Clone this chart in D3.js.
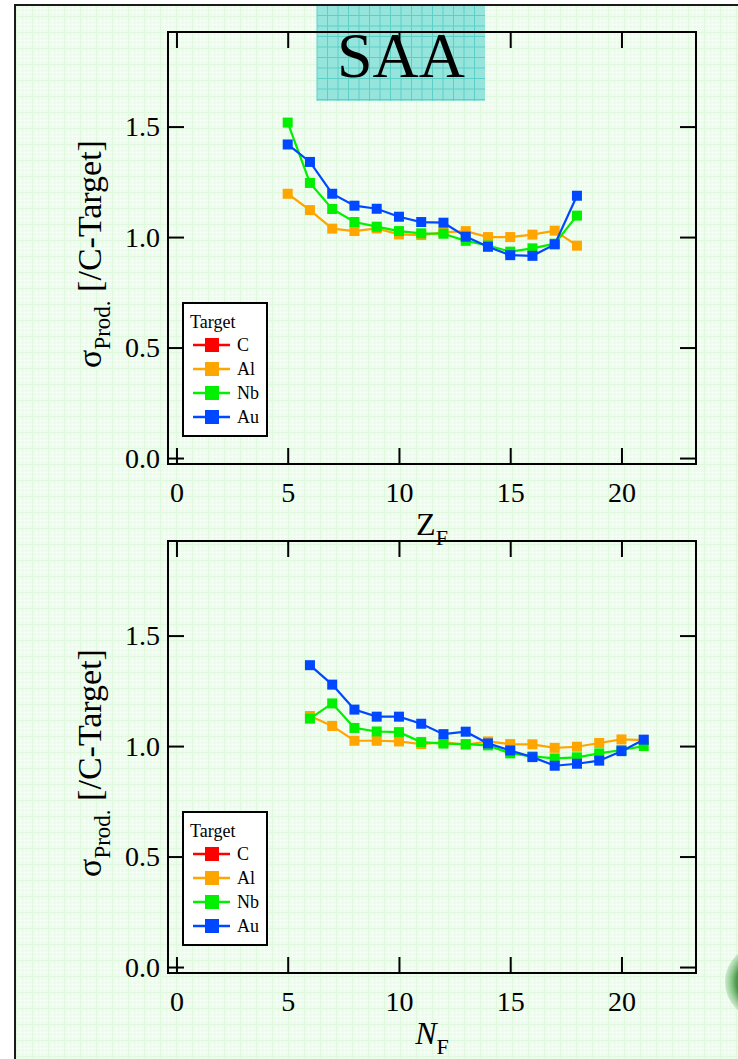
<!DOCTYPE html>
<html>
<head>
<meta charset="utf-8">
<script src="https://cdn.jsdelivr.net/npm/d3@7"></script>
<style>
  body { margin: 0; background: #fff; }
  svg { display: block; font-family: "Liberation Serif", "Times New Roman", serif; }
</style>
</head>
<body>
<div id="chart"></div>
<script>

// Data
const targets = ["C", "Al", "Nb", "Au"];
const targetColors = ["#ff0000", "#ffa500", "#00f000", "#0048ff"];

const zValues = [5, 6, 7, 8, 9, 10, 11, 12, 13, 14, 15, 16, 17, 18];
const zAl = [1.196, 1.122, 1.038, 1.027, 1.039, 1.012, 1.009, 1.021, 1.027, 1.000, 1.000, 1.011, 1.029, 0.961];
const zNb = [1.518, 1.245, 1.127, 1.068, 1.047, 1.027, 1.017, 1.015, 0.983, 0.962, 0.934, 0.949, 0.970, 1.097];
const zAu = [1.419, 1.340, 1.196, 1.142, 1.128, 1.092, 1.068, 1.065, 1.002, 0.956, 0.918, 0.915, 0.967, 1.187];

const nValues = [6, 7, 8, 9, 10, 11, 12, 13, 14, 15, 16, 17, 18, 19, 20, 21];
const nAl = [1.136, 1.091, 1.024, 1.024, 1.021, 1.009, 1.018, 1.006, 1.021, 1.009, 1.008, 0.992, 0.997, 1.014, 1.030, 1.027];
const nNb = [1.124, 1.193, 1.082, 1.066, 1.063, 1.018, 1.011, 1.009, 1.003, 0.967, 0.953, 0.944, 0.949, 0.967, 0.982, 1.000];
const nAu = [1.366, 1.278, 1.165, 1.133, 1.133, 1.101, 1.054, 1.065, 1.012, 0.980, 0.950, 0.911, 0.920, 0.934, 0.977, 1.029];

const xTicks = [0, 5, 10, 15, 20];
const yTicks = [0.0, 0.5, 1.0, 1.5];

// Dimensions
const width = 738;
const height = 1059;
const left = 168;
const right = 696;

const svg = d3.select("#chart")
  .append("svg")
    .attr("width", width)
    .attr("height", height);

const defs = svg.append("defs");

// light green graph-paper background
const bgPattern = defs.append("pattern")
    .attr("id", "paper")
    .attr("width", 16)
    .attr("height", 16)
    .attr("patternUnits", "userSpaceOnUse");
bgPattern.append("rect")
    .attr("width", 16)
    .attr("height", 16)
    .attr("fill", "#eafcea");
[0, 4, 8, 12].forEach(p => {
  bgPattern.append("rect").attr("x", p).attr("y", 0).attr("width", 1).attr("height", 16).attr("fill", "#f5fef4");
  bgPattern.append("rect").attr("x", 0).attr("y", p).attr("width", 16).attr("height", 1).attr("fill", "#f5fef4");
});
bgPattern.append("rect").attr("x", 0).attr("y", 0).attr("width", 1).attr("height", 16).attr("fill", "#dff8de");
bgPattern.append("rect").attr("x", 0).attr("y", 0).attr("width", 16).attr("height", 1).attr("fill", "#dff8de");

const blob = defs.append("radialGradient")
    .attr("id", "blob");
blob.append("stop").attr("offset", "0%").attr("stop-color", "#2f7f2f");
blob.append("stop").attr("offset", "70%").attr("stop-color", "#4a9a4a");
blob.append("stop").attr("offset", "100%").attr("stop-color", "#8fcf8f").attr("stop-opacity", 0.4);

svg.append("rect")
    .attr("x", 15)
    .attr("y", 5)
    .attr("width", width - 15)
    .attr("height", height - 5)
    .attr("fill", "url(#paper)");

// decorative blob at the lower right corner
svg.append("circle")
    .attr("cx", 762)
    .attr("cy", 982)
    .attr("r", 37)
    .attr("fill", "url(#blob)");

// SAA title box
const saa = svg.append("g");
saa.append("rect")
    .attr("x", 317)
    .attr("y", 5)
    .attr("width", 168)
    .attr("height", 96)
    .attr("fill", "#95e5dc");
d3.range(317, 485, 10.5).forEach(p => {
  saa.append("line").attr("x1", p).attr("x2", p).attr("y1", 5).attr("y2", 101)
    .attr("stroke", "#5ccfc7").attr("stroke-width", 1);
});
d3.range(5, 101, 10.5).forEach(p => {
  saa.append("line").attr("x1", 317).attr("x2", 485).attr("y1", p).attr("y2", p)
    .attr("stroke", "#5ccfc7").attr("stroke-width", 1);
});
saa.append("text")
    .attr("x", 401)
    .attr("y", 77)
    .attr("text-anchor", "middle")
    .style("font-size", "64px")
    .attr("fill", "#000")
    .text("SAA");

// outer page border
svg.append("path")
    .attr("d", `M15,${height} V5 H${width}`)
    .attr("fill", "none")
    .attr("stroke", "#1a1a1a")
    .attr("stroke-width", 2);

const drawPanel = (top, xValues, series, xName, italic) => {
  const bottom = top + 432;

  const x = d3.scaleLinear()
    .domain([-0.38, 23.35])
    .range([left, right]);

  const y = d3.scaleLinear()
    .domain([-0.027, 1.928])
    .range([bottom, top]);

  const g = svg.append("g");

  const styleAxis = a => {
    a.select(".domain").remove();
    a.selectAll(".tick line").attr("stroke", "#000").attr("stroke-width", 2);
    a.selectAll(".tick text")
      .attr("fill", "#000")
      .style("font-size", "28px")
      .style("font-family", "'Liberation Serif', serif");
  };

  g.append("g")
      .attr("transform", `translate(0, ${bottom})`)
      .call(d3.axisBottom(x).tickValues(xTicks).tickSize(-16).tickPadding(18))
      .call(styleAxis);

  g.append("g")
      .attr("transform", `translate(0, ${top})`)
      .call(d3.axisTop(x).tickValues(xTicks).tickSize(-16).tickFormat(""))
      .call(styleAxis);

  g.append("g")
      .attr("transform", `translate(${left}, 0)`)
      .call(d3.axisLeft(y).tickValues(yTicks).tickSize(-16).tickPadding(8).tickFormat(d3.format(".1f")))
      .call(styleAxis);

  g.append("g")
      .attr("transform", `translate(${right}, 0)`)
      .call(d3.axisRight(y).tickValues(yTicks).tickSize(-16).tickFormat(""))
      .call(styleAxis);

  g.append("rect")
      .attr("x", left)
      .attr("y", top)
      .attr("width", right - left)
      .attr("height", bottom - top)
      .attr("fill", "none")
      .attr("stroke", "#000")
      .attr("stroke-width", 2);

  // series: Al, Nb, Au (C is the reference and sits in the legend only)
  const line = d3.line()
    .x(d => x(d[0]))
    .y(d => y(d[1]));

  series.forEach((vals, i) => {
    const color = targetColors[i + 1];
    const pts = xValues.map((v, j) => [v, vals[j]]);
    g.append("path")
        .datum(pts)
        .attr("d", line)
        .attr("fill", "none")
        .attr("stroke", color)
        .attr("stroke-width", 2.2);
    g.selectAll(null)
      .data(pts)
      .join("rect")
        .attr("x", d => x(d[0]) - 5)
        .attr("y", d => y(d[1]) - 5)
        .attr("width", 10)
        .attr("height", 10)
        .attr("fill", color);
  });

  // y title
  const yTitle = g.append("text")
      .attr("transform", `translate(101, ${top + 222}) rotate(-90)`)
      .attr("text-anchor", "middle")
      .attr("fill", "#000")
      .style("font-size", "34px");
  yTitle.append("tspan").text("σ");
  yTitle.append("tspan").attr("dy", 9).style("font-size", "23px").text("Prod.");
  yTitle.append("tspan").attr("dy", -9).text(" [/C-Target]");

  // x title
  const xTitle = g.append("text")
      .attr("x", 432)
      .attr("y", bottom + 71)
      .attr("text-anchor", "middle")
      .attr("fill", "#000")
      .style("font-size", "32px");
  xTitle.append("tspan").style("font-style", italic ? "italic" : "normal").text(xName);
  xTitle.append("tspan").attr("dy", 10).style("font-size", "22px").text("F");

  // legend
  const lx = 183;
  const ly = top + 271;
  const legend = g.append("g")
      .attr("transform", `translate(${lx}, ${ly})`);
  legend.append("rect")
      .attr("width", 84)
      .attr("height", 133)
      .attr("fill", "#fff")
      .attr("stroke", "#000")
      .attr("stroke-width", 2);
  legend.append("text")
      .attr("x", 7)
      .attr("y", 25)
      .attr("fill", "#000")
      .style("font-size", "18px")
      .text("Target");
  const items = legend.selectAll(".legend-item")
    .data(targets)
    .join("g")
      .attr("class", "legend-item")
      .attr("transform", (d, i) => `translate(0, ${42 + i * 24})`);
  items.append("line")
      .attr("x1", 10)
      .attr("x2", 47)
      .attr("stroke", (d, i) => targetColors[i])
      .attr("stroke-width", 2.5);
  items.append("rect")
      .attr("x", 22)
      .attr("y", -7)
      .attr("width", 14)
      .attr("height", 14)
      .attr("fill", (d, i) => targetColors[i]);
  items.append("text")
      .attr("x", 54)
      .attr("y", 6)
      .attr("fill", "#000")
      .style("font-size", "18px")
      .text(d => d);
};

drawPanel(32, zValues, [zAl, zNb, zAu], "Z", false);
drawPanel(541, nValues, [nAl, nNb, nAu], "N", true);

</script>
</body>
</html>
